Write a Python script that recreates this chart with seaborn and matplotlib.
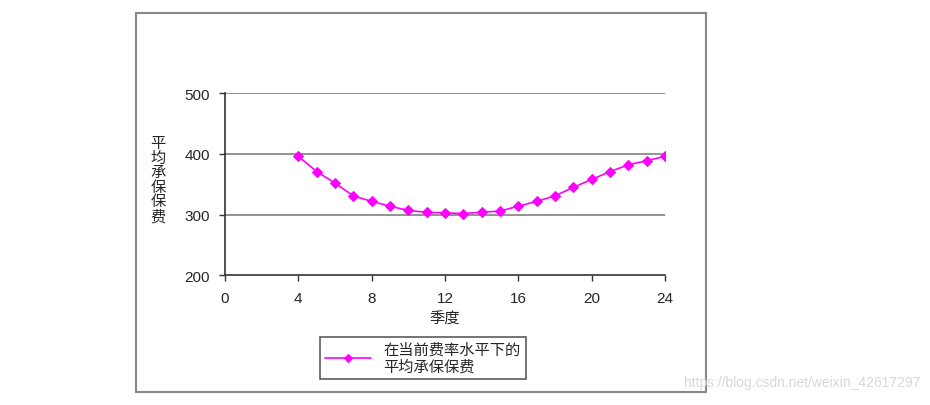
import numpy as np
import pandas as pd
import matplotlib.pyplot as plt
import seaborn as sns
from matplotlib.patches import Rectangle

# data
quarters = list(range(4, 25))
premium = [396, 371, 352, 331, 322, 314, 307, 304, 303, 302, 304,
           306, 314, 322, 331, 345, 358, 371, 382, 389, 396]
x_ticks = [0, 4, 8, 12, 16, 20, 24]
y_ticks = [200, 300, 400, 500]
series_label = "在当前费率水平下的\n平均承保保费"

df = pd.DataFrame({"季度": quarters, "保费": premium})

sns.set_style("white")
plt.rcParams['font.family'] = ['Liberation Sans', 'Noto Sans CJK SC', 'DejaVu Sans']

fig = plt.figure(figsize=(9.3, 4.06), dpi=100)
ax = fig.add_axes([0.242, 0.319, 0.473, 0.449])

sns.lineplot(data=df, x="季度", y="保费", ax=ax, color="#FF00FF",
             marker="D", markersize=5, markeredgecolor="#FF00FF",
             linewidth=1.2, label=series_label)

ax.set_xlim(0, 24)
ax.set_ylim(200, 500)
ax.set_xticks(x_ticks)
ax.set_yticks(y_ticks)
ax.tick_params(axis='both', labelsize=11, length=4, width=1, color='#333333',
               direction='out', pad=7, bottom=True, left=True)
for y in y_ticks[1:]:
    ax.axhline(y, color='#808080', lw=1.2, zorder=0)

for s in ['top', 'right']:
    ax.spines[s].set_visible(False)
for s in ['left', 'bottom']:
    ax.spines[s].set_color('#333333')
    ax.spines[s].set_linewidth(1.2)

ax.set_xlabel("")
ax.set_ylabel("")
fig.text(0.478, 0.212, "季度", fontsize=11, ha='center', va='center')
fig.text(0.170, 0.555, "\n".join("平均承保保费"), fontsize=11,
         ha='center', va='center', linespacing=1.05)

leg = fig.legend(loc='upper left', bbox_to_anchor=(0.344, 0.167), fontsize=11,
                 frameon=True, fancybox=False, edgecolor='#333333',
                 handlelength=3, borderpad=0.35, labelspacing=0.1,
                 borderaxespad=0, markerscale=0.9)
leg.get_frame().set_linewidth(1.2)
ax.get_legend().remove()

# outer chart area border
fig.patches.append(Rectangle((0.146, 0.032), 0.613, 0.934, transform=fig.transFigure,
                             fill=False, edgecolor='#888888', lw=1.5))

fig.text(0.99, 0.04, "https://blog.csdn.net/weixin_42617297", fontsize=10,
         color='#d8d8d8', ha='right', va='bottom')

fig.savefig("out.png", dpi=100)
